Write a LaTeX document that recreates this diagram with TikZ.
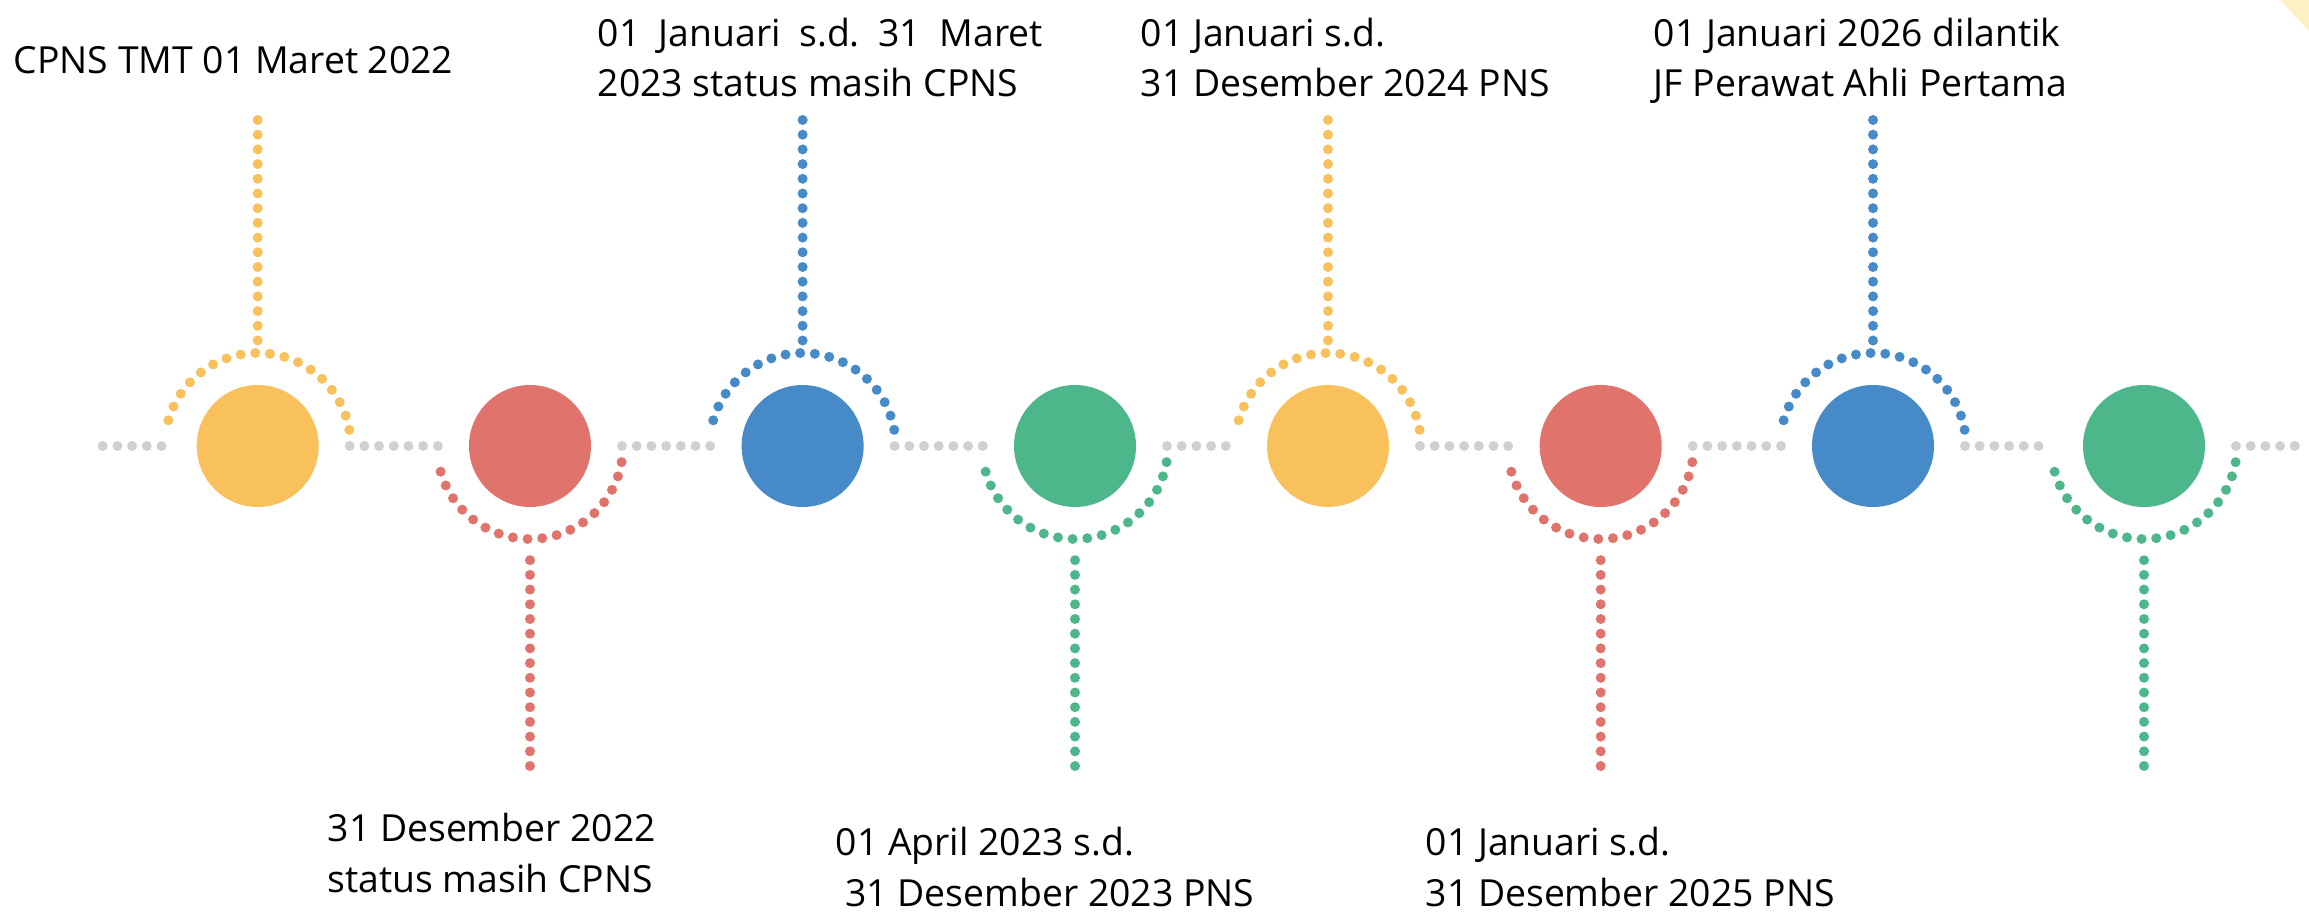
\documentclass[tikz,border=0pt]{standalone}
\usepackage{fontspec}
\setmainfont{Open Sans}
\usepackage{tikz}
\usetikzlibrary{calc}
\definecolor{tlyellow}{HTML}{F9C15C}
\definecolor{tlred}{HTML}{E0736B}
\definecolor{tlblue}{HTML}{478AC8}
\definecolor{tlgreen}{HTML}{4DB78B}
\definecolor{tlgray}{HTML}{D0D0D0}
\definecolor{cornerfill}{HTML}{FFF0C4}
\tikzstyle{event} = [circle, minimum size=36.6pt, inner sep=0pt, draw=none]
\tikzstyle{dots} = [line width=3pt, line cap=round, dash pattern=on 0pt off 4.41pt]
\tikzstyle{graydots} = [dots, draw=tlgray]
\tikzstyle{datetext} = [align=left, anchor=base west, inner sep=0pt, font=\fontsize{11.2}{15.2}\selectfont\frenchspacing]

\begin{document}
\begin{tikzpicture}[x=0.3pt,y=0.3pt]
\useasboundingbox (0,0) rectangle (2309,914);
\fill [cornerfill] (2280,914) -- (2309,914) -- (2309,883) -- cycle;

\node (ev1) [event, fill=tlyellow] at (257.7,468) {};
\node (ev2) [event, fill=tlred] at (530,468) {};
\node (ev3) [event, fill=tlblue] at (802.6,468) {};
\node (ev4) [event, fill=tlgreen] at (1075,468) {};
\node (ev5) [event, fill=tlyellow] at (1328,468) {};
\node (ev6) [event, fill=tlred] at (1600.7,468) {};
\node (ev7) [event, fill=tlblue] at (1873,468) {};
\node (ev8) [event, fill=tlgreen] at (2144,468) {};

% base is the last line of each text
\node (txt1) [datetext] at (13,840) {CPNS TMT 01 Maret 2022};
\node (txt3) [datetext] at (597,817) {\makebox[133.5pt][s]{01 Januari s.d. 31 Maret}\\2023 status masih CPNS};
\node (txt5) [datetext] at (1140,817) {01 Januari s.d.\\31 Desember 2024 PNS};
\node (txt7) [datetext] at (1653,817) {01 Januari 2026 dilantik\\JF Perawat Ahli Pertama};
\node (txt2) [datetext] at (327,22) {31 Desember 2022\\status masih CPNS};
\node (txt4) [datetext] at (835,8) {01 April 2023 s.d.\\\ 31 Desember 2023 PNS};
\node (txt6) [datetext] at (1425,8) {01 Januari s.d.\\31 Desember 2025 PNS};

% grey time line
\draw [graydots] ($(ev1)+(-155,0)$) -- ($(ev1)+(-92,0)$);
\draw [graydots] ($(ev1)+(92,0)$) -- ($(ev2)+(-92,0)$);
\draw [graydots] ($(ev2)+(92,0)$) -- ($(ev3)+(-92,0)$);
\draw [graydots] ($(ev3)+(92,0)$) -- ($(ev4)+(-92,0)$);
\draw [graydots] ($(ev4)+(92,0)$) -- ($(ev5)+(-92,0)$);
\draw [graydots] ($(ev5)+(92,0)$) -- ($(ev6)+(-92,0)$);
\draw [graydots] ($(ev6)+(92,0)$) -- ($(ev7)+(-92,0)$);
\draw [graydots] ($(ev7)+(92,0)$) -- ($(ev8)+(-92,0)$);
\draw [graydots] ($(ev8)+(92,0)$) -- ($(ev8)+(153,0)$);

% arcs and stems, upwards
\draw [dots, draw=tlyellow] ($(ev1)+(10:93)$) arc[start angle=10, end angle=170, radius=93];
\draw [dots, draw=tlyellow] ($(ev1)+(0,326)$) -- ($(ev1)+(0,105)$);
\draw [dots, draw=tlblue] ($(ev3)+(10:93)$) arc[start angle=10, end angle=170, radius=93];
\draw [dots, draw=tlblue] ($(ev3)+(0,326)$) -- ($(ev3)+(0,105)$);
\draw [dots, draw=tlyellow] ($(ev5)+(10:93)$) arc[start angle=10, end angle=170, radius=93];
\draw [dots, draw=tlyellow] ($(ev5)+(0,326)$) -- ($(ev5)+(0,105)$);
\draw [dots, draw=tlblue] ($(ev7)+(10:93)$) arc[start angle=10, end angle=170, radius=93];
\draw [dots, draw=tlblue] ($(ev7)+(0,326)$) -- ($(ev7)+(0,105)$);

% arcs and stems, downwards
\draw [dots, draw=tlred] ($(ev2)+(-10:93)$) arc[start angle=-10, end angle=-170, radius=93];
\draw [dots, draw=tlred] ($(ev2)+(0,-320)$) -- ($(ev2)+(0,-106)$);
\draw [dots, draw=tlgreen] ($(ev4)+(-10:93)$) arc[start angle=-10, end angle=-170, radius=93];
\draw [dots, draw=tlgreen] ($(ev4)+(0,-320)$) -- ($(ev4)+(0,-106)$);
\draw [dots, draw=tlred] ($(ev6)+(-10:93)$) arc[start angle=-10, end angle=-170, radius=93];
\draw [dots, draw=tlred] ($(ev6)+(0,-320)$) -- ($(ev6)+(0,-106)$);
\draw [dots, draw=tlgreen] ($(ev8)+(-10:93)$) arc[start angle=-10, end angle=-170, radius=93];
\draw [dots, draw=tlgreen] ($(ev8)+(0,-320)$) -- ($(ev8)+(0,-106)$);
\end{tikzpicture}
\end{document}
